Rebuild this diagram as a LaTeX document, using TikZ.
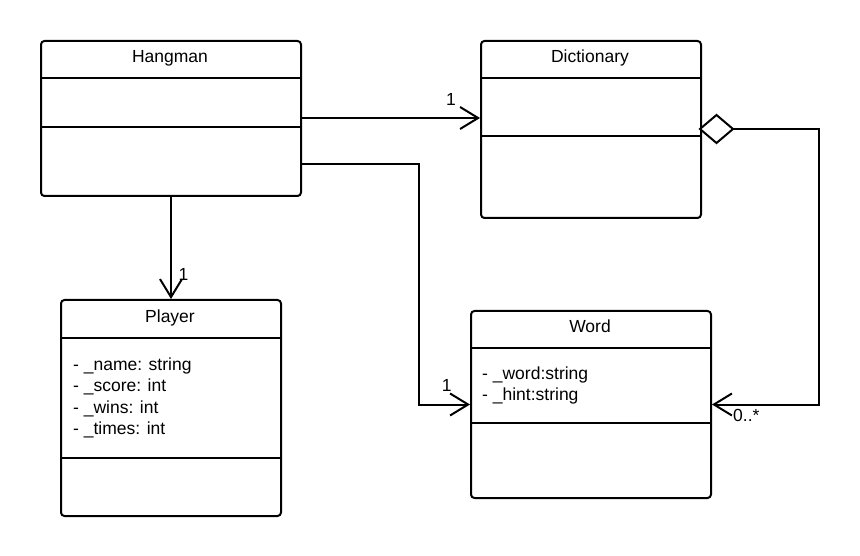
\documentclass[tikz,border=0pt]{standalone}
\usepackage{fontspec}
\setmainfont{Liberation Sans}
\usetikzlibrary{arrows.meta,shapes.geometric}
\begin{document}
\begin{tikzpicture}[x=1pt,y=-1pt,
  cls/.style={draw, line width=2pt, rounded corners=3.5pt, anchor=north west, inner sep=0pt},
  div/.style={line width=2pt},
  conn/.style={line width=2pt, -{Straight Barb[length=18pt,width=22pt]}},
  title/.style={anchor=base, inner sep=0pt, font=\fontsize{17.5}{21}\selectfont},
  attr/.style={anchor=base west, inner sep=0pt, font=\fontsize{17.5}{21}\selectfont},
  mult/.style={anchor=base, inner sep=0pt, font=\fontsize{17.5}{21}\selectfont}]
\useasboundingbox[fill=white] (0,0) rectangle (860,556);

% classes
\node[cls, minimum width=260pt, minimum height=155pt] (hang) at (40,40) {};
\node[cls, minimum width=220pt, minimum height=177pt] (dict) at (480,40) {};
\node[cls, minimum width=220pt, minimum height=216pt] (player) at (60,299) {};
\node[cls, minimum width=240pt, minimum height=187pt] (word) at (470,310) {};

% dividers
\draw[div] (hang.west |- 0,78) -- (hang.east |- 0,78);
\draw[div] (hang.west |- 0,127) -- (hang.east |- 0,127);
\draw[div] (dict.west |- 0,78) -- (dict.east |- 0,78);
\draw[div] (dict.west |- 0,136) -- (dict.east |- 0,136);
\draw[div] (player.west |- 0,338) -- (player.east |- 0,338);
\draw[div] (player.west |- 0,458) -- (player.east |- 0,458);
\draw[div] (word.west |- 0,348) -- (word.east |- 0,348);
\draw[div] (word.west |- 0,423) -- (word.east |- 0,423);

% titles
\node[title] (hangT) at (170,62.7) {Hangman};
\node[title] (dictT) at (590,62.7) {Dictionary};
\node[title] (playerT) at (170,322.7) {Player};
\node[title] (wordT) at (590,332.7) {Word};

% attributes
\node[attr] (pa1) at (73,370) {- \_name: string};
\node[attr] (pa2) at (73,391.5) {- \_score: int};
\node[attr] (pa3) at (73,413) {- \_wins: int};
\node[attr] (pa4) at (73,434.5) {- \_times: int};
\node[attr] (wa1) at (482,379) {- \_word:string};
\node[attr] (wa2) at (482,400) {- \_hint:string};

% aggregation diamond
\node[diamond, draw, line width=2pt, fill=white, minimum width=33pt, minimum height=28pt,
      inner sep=0pt, outer sep=0pt, anchor=west] (dia) at (700,129) {};

% connectors
\coordinate (bend1) at (419,164);
\coordinate (bend2) at (819,129);
\draw[conn] (hang.east |- 0,118) -- (dict.west |- 0,118);
\draw[conn] (hang.east |- bend1) -- (bend1) |- (word.west);
\draw[conn] (hang.south) -- (player.north);
\draw[conn] (dia.east) -- (bend2) |- (word.east);

% multiplicities
\node[mult] (m1) at (451,106) {1};
\node[mult] (m2) at (446.7,391.7) {1};
\node[mult] (m3) at (183.5,280) {1};
\node[mult, anchor=base west] (m4) at (733,421.7) {0..*};
\end{tikzpicture}
\end{document}
